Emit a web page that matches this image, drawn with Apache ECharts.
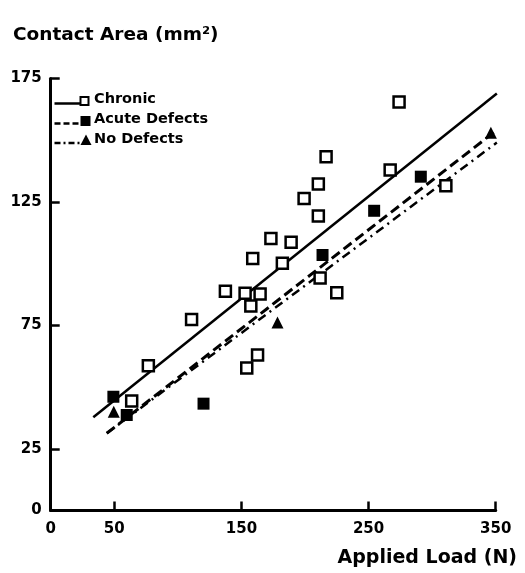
<!DOCTYPE html>
<html>
<head>
<meta charset="utf-8">
<script src="https://cdn.jsdelivr.net/npm/echarts@6/dist/echarts.min.js"></script>
<style>
html,body{margin:0;padding:0;background:#fff;}
#chart{width:525px;height:573px;}
</style>
</head>
<body>
<div id="chart"></div>
<script>
// ---- data ----
const chartTitle = 'Contact Area (mm²)';
const xAxisTitle = 'Applied Load (N)';
const seriesNames = ['Chronic', 'Acute Defects', 'No Defects'];
const xTickValues = [50, 150, 250, 350];
const xLabelValues = [0, 50, 150, 250, 350];
const yTickValues = [25, 75, 125, 175];
const yLabelValues = [0, 25, 75, 125, 175];

const chronicPoints = [
  [63.7, 44.4], [76.8, 58.7], [110.8, 77.4], [137.4, 88.8], [152.9, 88.0],
  [157.4, 82.8], [164.7, 87.7], [158.9, 102.1], [154.2, 57.7], [162.7, 63.0],
  [173.2, 110.2], [189.1, 108.7], [182.2, 100.2], [199.3, 126.4], [210.5, 132.2],
  [216.6, 143.3], [210.5, 119.3], [211.9, 94.2], [225.0, 88.2], [267.0, 137.9],
  [274.0, 165.4], [310.8, 131.5]
];
const acutePoints = [
  [49.3, 46.1], [59.8, 38.7], [120.2, 43.3], [213.8, 103.5], [254.4, 121.4], [291.1, 135.2]
];
const noDefectPoints = [
  [49.6, 40.0], [178.4, 76.2], [346.2, 153.0]
];
const chronicFit = [[33.5, 37.8], [350.9, 168.9]];
const acuteFit = [[44.1, 31.3], [350.9, 154.1]];
const noDefectFit = [[44.1, 31.3], [350.9, 149.0]];

// ---- chart ----
const FONT = 'DejaVu Sans';
const chart = echarts.init(document.getElementById('chart'), null, {renderer: 'canvas'});

function legendItem(y, name, dash, markerShape) {
  const items = [{
    type: 'line', left: 52, top: y,
    shape: {x1: 0, y1: 0, x2: 28, y2: 0},
    style: {stroke: '#000', lineWidth: 2.5, lineDash: dash}
  }];
  if (markerShape === 'open') {
    items.push({type: 'rect', shape: {x: 80.5, y: y - 4, width: 8, height: 8},
      style: {fill: '#fff', stroke: '#000', lineWidth: 2}});
  } else if (markerShape === 'filled') {
    items.push({type: 'rect', shape: {x: 80.5, y: y - 5, width: 10, height: 10},
      style: {fill: '#000'}});
  } else {
    items.push({type: 'polygon', shape: {points: [[86, y - 6], [91.5, y + 4.5], [80.5, y + 4.5]]},
      style: {fill: '#000'}});
  }
  items.push({type: 'text', left: 94, top: y - 9,
    style: {text: name, fill: '#000', font: 'bold 14.5px "' + FONT + '"'}});
  return items;
}

const option = {
  animation: false,
  backgroundColor: '#fff',
  title: [
    {text: chartTitle, left: 8, top: 21,
      textStyle: {fontFamily: FONT, fontSize: 18.5, fontWeight: 'bold', color: '#000'}},
    {text: xAxisTitle, right: 3, top: 544,
      textStyle: {fontFamily: FONT, fontSize: 19, fontWeight: 'bold', color: '#000'}}
  ],
  grid: {left: 50.7, right: 29.3, top: 78.4, bottom: 62.4, containLabel: false},
  xAxis: {
    type: 'value', min: 0, max: 350,
    splitLine: {show: false},
    axisLine: {show: true, onZero: false, lineStyle: {color: '#000', width: 3}},
    axisTick: {show: true, inside: true, length: 9, customValues: xTickValues,
      lineStyle: {color: '#000', width: 2.5}},
    axisLabel: {customValues: xLabelValues, color: '#000', fontFamily: FONT,
      fontSize: 15, fontWeight: 'bold', margin: 11}
  },
  yAxis: {
    type: 'value', min: 0, max: 175,
    splitLine: {show: false},
    axisLine: {show: true, onZero: false, lineStyle: {color: '#000', width: 3}},
    axisTick: {show: true, inside: true, length: 9, customValues: yTickValues,
      lineStyle: {color: '#000', width: 2.5}},
    axisLabel: {customValues: yLabelValues, color: '#000', fontFamily: FONT,
      fontSize: 15, fontWeight: 'bold', margin: 9}
  },
  graphic: [].concat(
    legendItem(101, seriesNames[0], null, 'open'),
    legendItem(121, seriesNames[1], [6, 3], 'filled'),
    legendItem(140.5, seriesNames[2], [6, 3, 2, 3], 'tri')
  ),
  series: [
    {name: seriesNames[0] + ' fit', type: 'line', data: chronicFit, showSymbol: false,
      silent: true, z: 2, lineStyle: {color: '#000', width: 2.5, type: 'solid'}},
    {name: seriesNames[1] + ' fit', type: 'line', data: acuteFit, showSymbol: false,
      silent: true, z: 2, lineStyle: {color: '#000', width: 3, type: [10, 5]}},
    {name: seriesNames[2] + ' fit', type: 'line', data: noDefectFit, showSymbol: false,
      silent: true, z: 2, lineStyle: {color: '#000', width: 2.5, type: [9, 5, 2, 5]}},
    {name: seriesNames[0], type: 'scatter', data: chronicPoints, symbol: 'rect',
      symbolSize: 11, z: 3,
      itemStyle: {color: '#fff', borderColor: '#000', borderWidth: 2.5, opacity: 1}},
    {name: seriesNames[1], type: 'scatter', data: acutePoints, symbol: 'rect',
      symbolSize: 12, z: 4, itemStyle: {color: '#000', opacity: 1}},
    {name: seriesNames[2], type: 'scatter', data: noDefectPoints, symbol: 'triangle',
      symbolSize: 12, z: 4, itemStyle: {color: '#000', opacity: 1}}
  ]
};
chart.setOption(option);
</script>
</body>
</html>
